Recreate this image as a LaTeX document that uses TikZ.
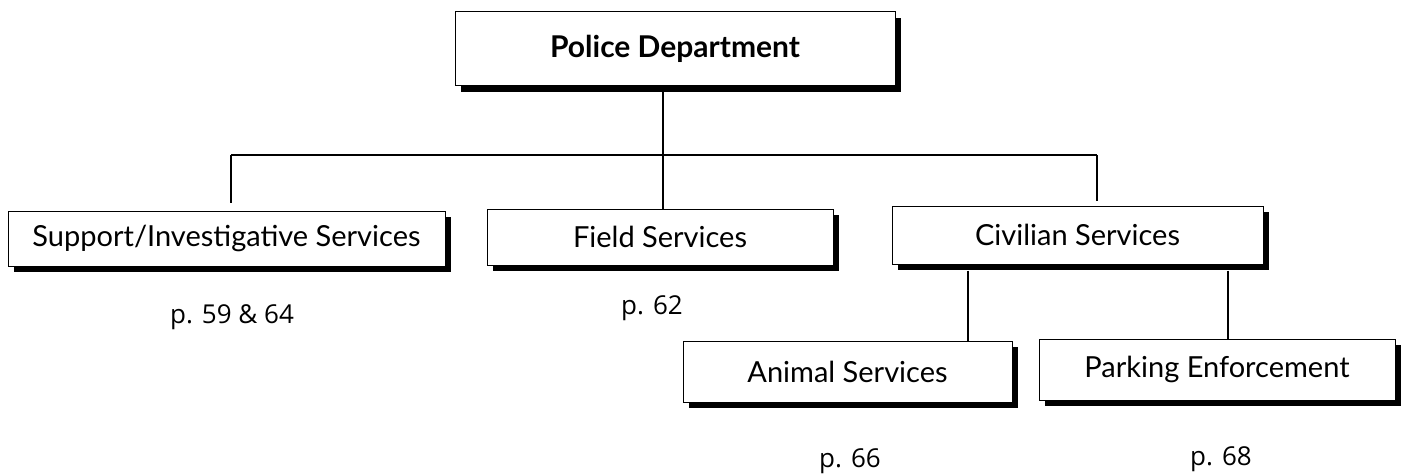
\documentclass[tikz,border=0pt]{standalone}
\usepackage{fontspec}
\setmainfont{Lato}
\newfontfamily\labfont{Open Sans}
\usetikzlibrary{shadows}
\begin{document}
\begin{tikzpicture}[x=1pt,y=-1pt,
  box/.style={draw=black, line width=1pt, fill=white, inner sep=0pt, anchor=center,
    font=\fontsize{29}{32}\selectfont,
    drop shadow={shadow xshift=6pt, shadow yshift=-6pt, fill=black, opacity=1}},
  conn/.style={draw=black, line width=1.3pt},
  pagelab/.style={font=\labfont\fontsize{26}{30}\selectfont, inner sep=0pt, anchor=center}]
\useasboundingbox[fill=white] (0,0) rectangle (1404,476);
\node[box, minimum width=440pt, minimum height=74pt, font=\bfseries\fontsize{30}{33}\selectfont] (pd) at (675,49) {Police Department};
\node[box, minimum width=437pt, minimum height=55pt] (sup) at (226.5,238.5) {Support/Investigative Services};
\node[box, minimum width=346pt, minimum height=56pt] (field) at (660,237) {Field Services};
\node[box, minimum width=371pt, minimum height=58pt] (civ) at (1077.5,235) {Civilian Services};
\node[box, minimum width=329pt, minimum height=61pt] (animal) at (847.5,371.5) {Animal Services};
\node[box, minimum width=356pt, minimum height=61pt] (park) at (1217,369.5) {Parking Enforcement};
\coordinate (bl) at (231,155);
\coordinate (bm) at (663,155);
\coordinate (br) at (1097,155);
\coordinate (supend) at (231,203);
\coordinate (civend) at (1097,201);
\draw[conn] (pd.south -| bm) -- (field.north -| bm);
\draw[conn] (bl) -- (br);
\draw[conn] (bl) -- (supend);
\draw[conn] (br) -- (civend);
\draw[conn] ([yshift=-6pt]civ.south -| 968,0) -- (animal.north -| 968,0);
\draw[conn] ([yshift=-6pt]civ.south -| 1228,0) -- (park.north -| 1228,0);
\node[pagelab] (l1) at (232,317) {p. 59 \& 64};
\node[pagelab] (l2) at (652,308) {p. 62};
\node[pagelab] (l3) at (850,461) {p. 66};
\node[pagelab] (l4) at (1221,459) {p. 68};
\end{tikzpicture}
\end{document}
